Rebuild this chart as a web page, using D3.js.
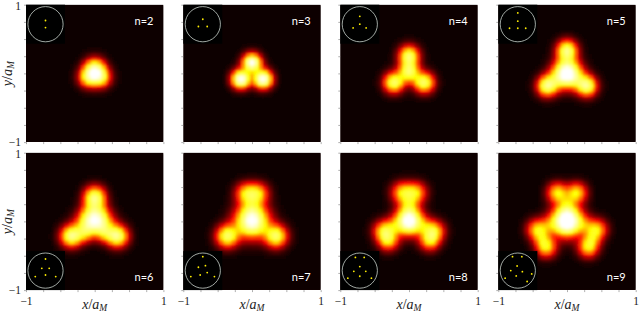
<!DOCTYPE html>
<html>
<head>
<meta charset="utf-8">
<script src="https://cdn.jsdelivr.net/npm/d3@7"></script>
<style>
html, body { margin: 0; padding: 0; background: #fff; }
svg { display: block; }
</style>
</head>
<body>
<div id="chart"></div>
<script>
var panelLabels = ['n=2', 'n=3', 'n=4', 'n=5', 'n=6', 'n=7', 'n=8', 'n=9'];

// hot spots: x, y, height, width (axis units)
var peaks2 = [[0, 0.09, 0.62, 0.1], [-0.09, -0.05, 0.62, 0.1], [0.09, -0.05, 0.62, 0.1]];
var peaks3 = [[0, 0.16, 1.05, 0.09], [-0.16, -0.08, 1.05, 0.09], [0.16, -0.08, 1.05, 0.09]];
var peaks4 = [[0, 0.03, 0.72, 0.1], [0, 0.26, 0.75, 0.1], [-0.22, -0.13, 0.75, 0.1], [0.22, -0.13, 0.75, 0.1]];
var peaks5 = [[0, 0.34, 0.78, 0.1], [-0.29, -0.18, 0.78, 0.1], [0.29, -0.18, 0.78, 0.1], [0, 0.09, 0.55, 0.12], [-0.09, -0.05, 0.55, 0.12], [0.09, -0.05, 0.55, 0.12]];
var peaks6 = [[0, 0.36, 0.74, 0.105], [-0.34, -0.21, 0.8, 0.105], [0.33, -0.21, 0.8, 0.105], [0, 0.12, 0.55, 0.125], [-0.11, -0.04, 0.55, 0.125], [0.11, -0.04, 0.55, 0.125], [-0.14, -0.19, 0.22, 0.08], [0.14, -0.19, 0.22, 0.08]];
var peaks7 = [[-0.09, 0.41, 0.5, 0.105], [0.09, 0.41, 0.5, 0.105], [-0.36, -0.21, 0.74, 0.11], [0.35, -0.21, 0.74, 0.11], [0, 0.01, 1.08, 0.16], [0, 0.22, 0.15, 0.09]];
var peaks8 = [[-0.1, 0.42, 0.52, 0.105], [0.1, 0.42, 0.52, 0.105], [-0.38, -0.13, 0.48, 0.1], [-0.3, -0.27, 0.55, 0.1], [0.38, -0.13, 0.48, 0.1], [0.3, -0.27, 0.55, 0.1], [0, 0.01, 1.15, 0.13], [0, 0.24, 0.28, 0.09], [-0.24, -0.07, 0.22, 0.09], [0.24, -0.07, 0.22, 0.09]];
var peaks9 = [[-0.14, 0.42, 0.56, 0.1], [0.14, 0.42, 0.56, 0.1], [-0.44, -0.11, 0.5, 0.1], [-0.3, -0.37, 0.56, 0.1], [0.44, -0.11, 0.5, 0.1], [0.31, -0.37, 0.56, 0.1], [0, 0.01, 1.3, 0.145], [0, 0.25, 0.22, 0.09], [-0.37, -0.24, 0.25, 0.09], [0.37, -0.24, 0.25, 0.09], [-0.27, -0.05, 0.2, 0.09], [0.27, -0.05, 0.2, 0.09]];
var panelPeaks = [peaks2, peaks3, peaks4, peaks5, peaks6, peaks7, peaks8, peaks9];

// yellow dots of the insets, in units of the circle radius
var dots2 = [[0, 0.21], [0, -0.19]];
var dots3 = [[0, 0.28], [-0.25, -0.13], [0.25, -0.13]];
var dots4 = [[0, 0.45], [0, 0], [-0.38, -0.21], [0.36, -0.21]];
var dots5 = [[0, 0.64], [0, 0.17], [-0.47, -0.23], [0, -0.23], [0.45, -0.23]];
var dots6 = [[0, 0.66], [-0.21, 0.13], [0.21, 0.13], [-0.58, -0.34], [0, -0.25], [0.58, -0.34]];
var dots7 = [[0, 0.79], [-0.25, 0.19], [0.15, 0.28], [-0.68, -0.34], [-0.15, -0.25], [0.25, -0.11], [0.66, -0.34]];
var dots8 = [[-0.25, 0.75], [0.25, 0.75], [0, 0.23], [-0.34, -0.04], [0.34, -0.04], [0, -0.32], [-0.68, -0.43], [0.66, -0.43]];
var dots9 = [[-0.3, 0.79], [0.23, 0.79], [-0.04, 0.26], [-0.4, 0], [0.26, -0.06], [-0.09, -0.3], [-0.72, -0.43], [0.79, -0.19], [0.53, -0.62]];
var panelDots = [dots2, dots3, dots4, dots5, dots6, dots7, dots8, dots9];

var tickValues = [-1, -0.75, -0.5, -0.25, 0, 0.25, 0.5, 0.75, 1];

var panelLefts = [26, 183.3, 340.3, 498.3];
var panelTops = [4.7, 152.7];
var panelSize = 137.4;
var cellsPerSide = 56;
var serif = '"Liberation Serif", serif';

var svg = d3.select('#chart').append('svg')
    .attr('width', 640)
    .attr('height', 314);

var defs = svg.append('defs');
defs.append('filter').attr('id', 'soft')
    .attr('x', '-5%').attr('y', '-5%').attr('width', '110%').attr('height', '110%')
    .append('feGaussianBlur').attr('stdDeviation', 0.9);
defs.append('clipPath').attr('id', 'frame')
    .append('rect').attr('width', panelSize).attr('height', panelSize);

var color = d3.scaleLinear()
    .domain([0, 0.27, 0.58, 1.05])
    .range(['#0b0000', '#ff0000', '#ffff00', '#ffffff'])
    .clamp(true);

var x = d3.scaleLinear().domain([-1, 1]).range([0, panelSize]);
var y = d3.scaleLinear().domain([-1, 1]).range([panelSize, 0]);
var cell = d3.scaleBand().domain(d3.range(cellsPerSide)).range([-1, 1]);

function density(peaks, px, py) {
    return d3.sum(peaks, function(p) {
        var dx = px - p[0], dy = py - p[1];
        return p[2] * Math.exp(-(dx * dx + dy * dy) / (2 * p[3] * p[3]));
    });
}

function axisLabel(sel, name) {
    sel.attr('font-family', serif).attr('font-size', 14).attr('fill', '#222').attr('text-anchor', 'middle');
    sel.append('tspan').attr('font-style', 'italic').text(name);
    sel.append('tspan').text('/');
    sel.append('tspan').attr('font-style', 'italic').text('a');
    sel.append('tspan').attr('font-style', 'italic').attr('font-size', 9.5).attr('dy', 2).text('M');
}

panelLabels.forEach(function(label, i) {
    var col = i % 4, row = Math.floor(i / 4);
    var g = svg.append('g')
        .attr('transform', 'translate(' + panelLefts[col] + ',' + panelTops[row] + ')');

    var map = g.append('g').attr('clip-path', 'url(#frame)');
    map.append('rect').attr('width', panelSize).attr('height', panelSize).attr('fill', '#0b0000');

    var cells = d3.cross(d3.range(cellsPerSide), d3.range(cellsPerSide));
    var w = cell.bandwidth();
    map.append('g').attr('filter', 'url(#soft)').selectAll('rect')
        .data(cells)
        .join('rect')
        .attr('x', function(d) { return x(cell(d[0])); })
        .attr('y', function(d) { return y(cell(d[1]) + w); })
        .attr('width', x(w) - x(0) + 0.3)
        .attr('height', x(w) - x(0) + 0.3)
        .attr('shape-rendering', 'crispEdges')
        .attr('fill', function(d) {
            return color(density(panelPeaks[i], cell(d[0]) + w / 2, cell(d[1]) + w / 2));
        });

    // axes: minor ticks everywhere, numbers only on the outer panels
    var xAxis = d3.axisBottom(x).tickValues(tickValues).tickSize(2).tickPadding(5)
        .tickFormat(function(v) {
            if (row === 1 && Math.abs(v) === 1) return v < 0 ? '\u22121' : '1';
            return '';
        });
    var yAxis = d3.axisLeft(y).tickValues(tickValues).tickSize(2).tickPadding(3)
        .tickFormat(function(v) {
            if (col === 0 && Math.abs(v) === 1) return v < 0 ? '\u22121' : '1';
            return '';
        });

    var xGroup = g.append('g').attr('transform', 'translate(0,' + panelSize + ')').call(xAxis);
    var yGroup = g.append('g').call(yAxis);
    [xGroup, yGroup].forEach(function(a) {
        a.select('.domain').remove();
        a.selectAll('line').attr('stroke', '#777').attr('stroke-width', 0.6);
        a.selectAll('text').attr('font-family', serif).attr('font-size', 11.5).attr('fill', '#222');
    });
    // the upper "1" sits a little below its tick
    yGroup.selectAll('.tick').filter(function(v) { return v === 1; })
        .select('text').attr('y', 1.5);

    // inset with the particle positions
    var insetSize = 39;
    var insetTop = row === 0 ? 0 : panelSize - insetSize;
    var inset = g.append('g').attr('transform', 'translate(0,' + insetTop + ')');
    inset.append('rect').attr('width', insetSize).attr('height', insetSize).attr('fill', '#000');
    inset.append('circle')
        .attr('cx', 19.5).attr('cy', 19.5).attr('r', 17.6)
        .attr('fill', 'none').attr('stroke', '#c9d2cc').attr('stroke-width', 0.8);
    var insetScale = d3.scaleLinear().domain([-1, 1]).range([-17.6, 17.6]);
    inset.selectAll('circle.dot')
        .data(panelDots[i])
        .join('circle')
        .attr('class', 'dot')
        .attr('cx', function(d) { return 19.5 + insetScale(d[0]); })
        .attr('cy', function(d) { return 19.5 - insetScale(d[1]); })
        .attr('r', 0.9)
        .attr('fill', '#ffee00');

    g.append('text')
        .attr('x', 118)
        .attr('y', row === 0 ? 20.5 : 128)
        .attr('text-anchor', 'middle')
        .attr('font-family', 'Lato, sans-serif')
        .attr('font-size', 11)
        .attr('fill', '#fff')
        .text(label);

    if (col === 0) {
        g.append('text')
            .attr('transform', 'translate(-14,69) rotate(-90)')
            .call(axisLabel, 'y');
    }
    if (row === 1) {
        g.append('text')
            .attr('transform', 'translate(' + (panelSize / 2) + ',' + (panelSize + 19) + ')')
            .call(axisLabel, 'x');
    }
});
</script>
</body>
</html>
